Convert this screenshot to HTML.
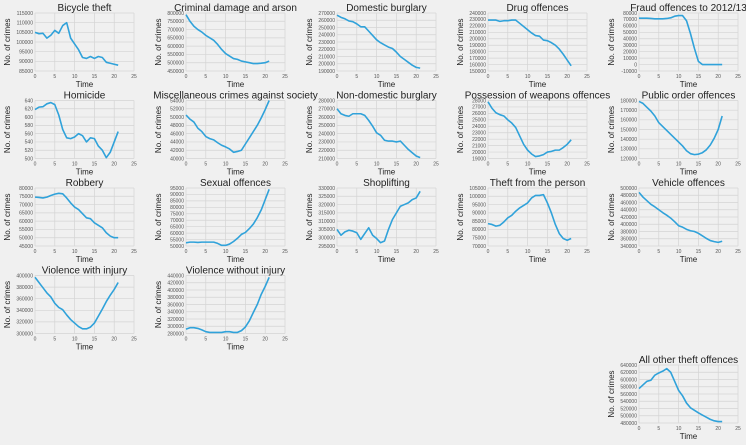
<!DOCTYPE html>
<html><head><meta charset="utf-8"><style>
html,body{margin:0;padding:0;background:#f0f0f0;}
svg{display:block;}
</style></head><body>
<svg id="s" width="746" height="445" xmlns="http://www.w3.org/2000/svg" font-family="Liberation Sans, sans-serif"></svg>
<script>
const P=[
["Bicycle theft",0,0,85000,115000,5000,[105,104.3,104.5,102,103.5,106,104.5,108.5,110,102,99,96,92,91.5,92.5,91.5,92.5,92,89.5,89,88.5,88],1000],
["Criminal damage and arson",1,0,450000,800000,50000,[790,750,720,700,685,665,650,635,610,580,555,540,525,520,510,505,500,495,495,497,500,510],1000],
["Domestic burglary",2,0,190000,270000,10000,[267,264,262,259,258,255,251,251,245,239,233,229,226,223,221,216,210,206,202,198,195,194],1000],
["Drug offences",3,0,150000,240000,10000,[229,229,229,227,228,228,229,229,224,219,214,209,205,204,198,197,194,190,184,176,167,158],1000],
["Fraud offences to 2012/13",4,0,-10000,80000,10000,[72,72,72,71.5,71,71,71,71.5,72.5,75,76,76,68,48,25,5,0,0,0,0,0,0],1000],
["Homicide",0,1,500,640,20,[618,624,625,632,635,630,605,570,550,548,552,560,555,540,550,548,530,520,502,515,540,565],1],
["Miscellaneous crimes against society",1,1,40000,54000,2000,[50.5,49.5,48.8,47.3,46.5,45.3,44.8,44.5,43.8,43.2,42.8,42.3,41.5,41.7,42,43.5,45,46.5,48,49.8,51.8,54],1000],
["Non-domestic burglary",2,1,210000,280000,10000,[270,264,262,261,264,264,264,262,256,249,241,238,232,231,231,230,231,226,221,217,213,211],1000],
["Possession of weapons offences",3,1,19000,28000,1000,[27.8,26.8,26.1,25.8,25.6,25,24.5,23.8,22.5,21.2,20.3,19.7,19.3,19.4,19.6,20,20.1,20.3,20.3,20.7,21.2,21.9],1000],
["Public order offences",4,1,120000,180000,10000,[179,177,173,169,164,157,153,149,145,141,137,133,128,125,124,124.5,126,129,134,141,150,164],1000],
["Robbery",0,2,45000,80000,5000,[74.5,74.3,74,74.5,75.5,76.3,76.8,76.5,74,71,68.5,67,64.5,62,61.5,59,57.5,56,53,51,50,50],1000],
["Sexual offences",1,2,50000,95000,5000,[52.5,53,53,52.8,53,53,53,53,52,50.5,50.5,51.5,53.5,56,59,60.5,63.5,67,72,78,86,94],1000],
["Shoplifting",2,2,295000,330000,5000,[305,301.5,303.5,304.5,304,303,299,302.5,306,301.5,299.5,297,298,305,311,315,319,320,321,323,324,328],1000],
["Theft from the person",3,2,70000,105000,5000,[83.5,83,82,82.5,84.5,87,88.5,91,93,94.5,96,99,100.5,100.5,101,96,90,83,77.5,74.5,73.5,74.5],1000],
["Vehicle offences",4,2,340000,500000,20000,[488,475,465,455,448,440,432,425,417,407,396,392,386,382,380,375,368,361,355,352,350,353],1000],
["Violence with injury",0,3,300000,400000,20000,[397,388,379,370,363,352,345,341,332,324,318,312,308,308,311,318,330,342,355,366,376,388],1000],
["Violence without injury",1,3,280000,440000,20000,[292,296,296,294,290,285,283,283,283,283,285,285,283,283,288,298,315,338,360,388,410,435],1000],
["All other theft offences",4,4,480000,640000,20000,[575,585,595,598,612,618,623,630,620,595,570,555,535,522,515,508,502,496,490,486,484,484],1000]
];
let h='';
for(const [t,c,r,mn,mx,st,d,m] of P){
 const x0=35+151*c, w=99, y0=13+87.5*r+(r==4?2:0), ht=58;
 const X=v=>x0+v/25*w, Y=v=>y0+ht-(v-mn)/(mx-mn)*ht;
 for(let v=0;v<=25;v+=5){h+=`<line x1="${X(v)}" x2="${X(v)}" y1="${y0}" y2="${y0+ht}" stroke="#d4d4d4" stroke-width="0.7"/>`;
  h+=`<text x="${X(v)}" y="${y0+ht+7}" font-size="5" fill="#555" text-anchor="middle">${v}</text>`;}
 for(let v=mn;v<=mx+1e-6;v+=st){h+=`<line x1="${x0}" x2="${x0+w}" y1="${Y(v)}" y2="${Y(v)}" stroke="#d4d4d4" stroke-width="0.7"/>`;
  h+=`<text x="${x0-2}" y="${Y(v)+1.8}" font-size="5" fill="#555" text-anchor="end">${Math.round(v)}</text>`;}
 h+=`<polyline fill="none" stroke="#30a2da" stroke-width="1.6" stroke-linejoin="round" points="${d.map((v,i)=>X(i)+','+Y(v*m)).join(' ')}"/>`;
 h+=`<text x="${x0+w/2}" y="${y0-2}" font-size="10" fill="#222" text-anchor="middle">${t}</text>`;
 h+=`<text x="${x0+w/2}" y="${y0+ht+16}" font-size="8" fill="#222" text-anchor="middle">Time</text>`;
 h+=`<text transform="translate(${x0-25},${y0+ht/2}) rotate(-90)" font-size="8" fill="#222" text-anchor="middle">No. of crimes</text>`;
}
document.getElementById('s').innerHTML=h;
</script>
</body></html>
